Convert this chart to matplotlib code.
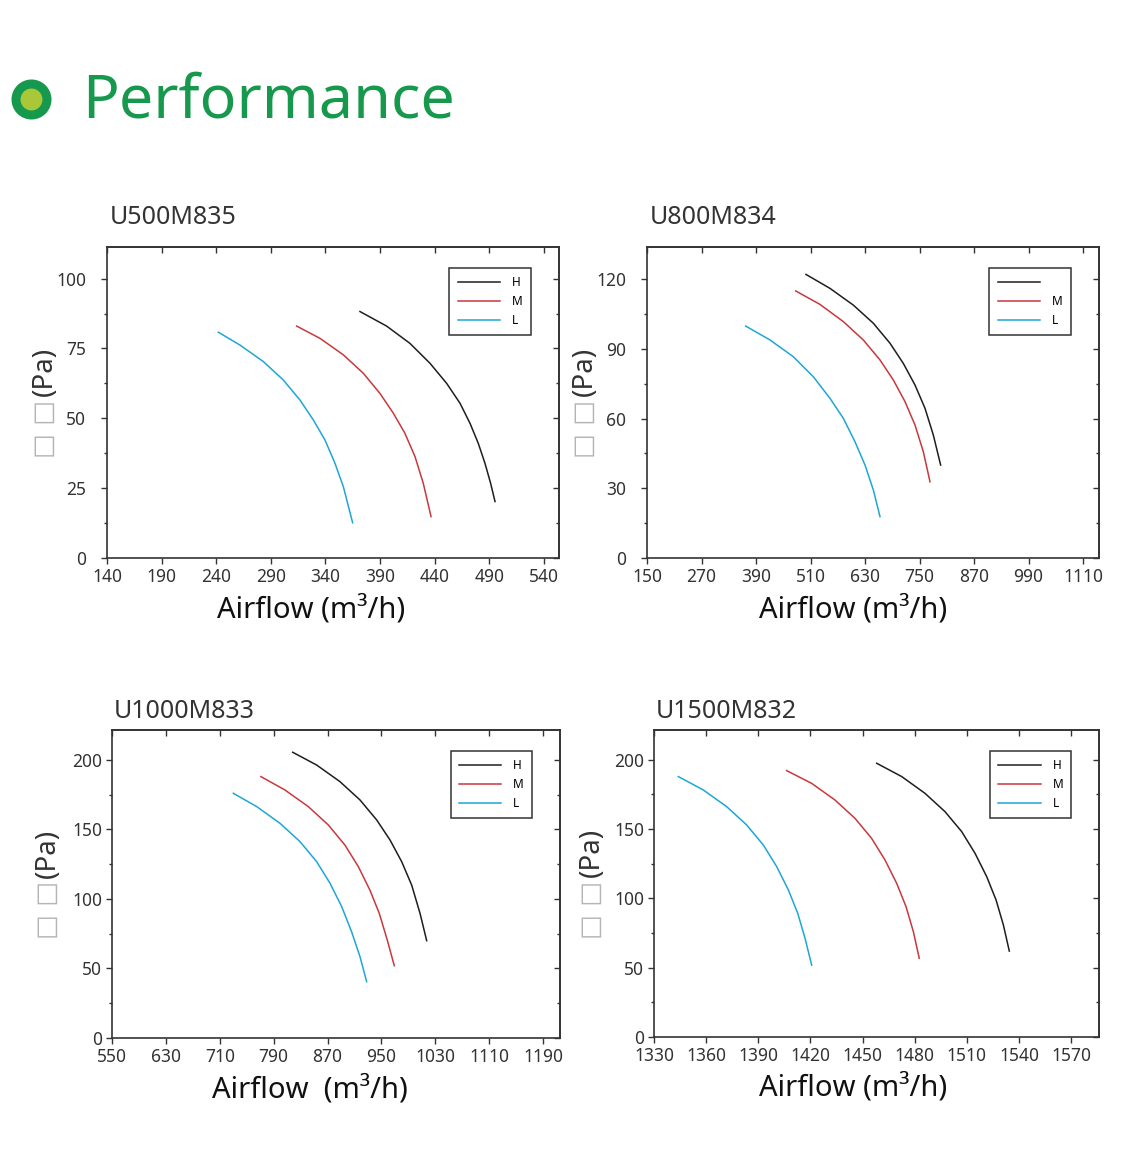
import matplotlib
matplotlib.use("Agg")
import matplotlib.pyplot as plt
from matplotlib.ticker import MultipleLocator

plt.rcParams['font.family'] = ['Noto Sans', 'DejaVu Sans']

# ---- data ----
models = ["U500M835", "U800M834", "U1000M833", "U1500M832"]
speed_labels = ["H", "M", "L"]

# U500M835
u500_xticks = [140, 190, 240, 290, 340, 390, 440, 490, 540]
u500_yticks = [0, 25, 50, 75, 100]
u500_h_x = [371.7, 396.1, 417.5, 435.8, 451.1, 463.3, 472.5, 480.1, 486.2, 491.4, 495.4]
u500_h_y = [88.2, 83.0, 76.8, 69.7, 62.5, 55.4, 48.2, 41.0, 33.9, 26.7, 20.2]
u500_m_x = [313.7, 335.1, 356.5, 374.8, 390.0, 402.3, 412.9, 422.1, 429.7, 436.8]
u500_m_y = [83.0, 78.6, 72.7, 66.1, 58.9, 51.8, 44.6, 36.3, 26.7, 14.8]
u500_l_x = [242.0, 261.8, 283.2, 301.5, 316.8, 329.0, 339.7, 348.8, 356.5, 365.0]
u500_l_y = [80.8, 76.2, 70.3, 63.7, 56.5, 49.4, 42.2, 33.9, 25.5, 12.6]

# U800M834
u800_xticks = [150, 270, 390, 510, 630, 750, 870, 990, 1110]
u800_yticks = [0, 30, 60, 90, 120]
u800_h_x = [500.0, 552.8, 604.2, 648.2, 684.9, 714.3, 740.0, 762.0, 780.3, 796.4]
u800_h_y = [122.0, 116.0, 108.8, 101.0, 92.4, 83.7, 74.4, 64.4, 52.9, 40.0]
u800_m_x = [477.3, 530.8, 582.2, 626.2, 662.9, 692.2, 717.9, 740.0, 758.3, 773.0]
u800_m_y = [114.9, 109.1, 101.7, 93.8, 85.2, 76.6, 67.3, 57.2, 45.7, 32.8]
u800_l_x = [367.2, 420.8, 472.1, 516.1, 552.8, 582.2, 607.9, 629.9, 648.2, 662.9]
u800_l_y = [99.8, 93.8, 86.6, 78.0, 68.7, 60.1, 50.0, 40.0, 29.3, 17.8]

# U1000M833
u1000_xticks = [550, 630, 710, 790, 870, 950, 1030, 1110, 1190]
u1000_yticks = [0, 50, 100, 150, 200]
u1000_h_x = [818.2, 853.8, 888.3, 918.1, 942.9, 962.7, 980.0, 994.8, 1007.2, 1017.1]
u1000_h_y = [205.5, 196.3, 184.4, 171.2, 156.8, 142.4, 126.8, 110.0, 89.7, 70.0]
u1000_m_x = [771.0, 806.6, 841.4, 871.1, 895.7, 915.6, 932.8, 946.7, 958.6, 969.0]
u1000_m_y = [188.0, 178.4, 166.4, 153.2, 138.8, 123.3, 106.4, 89.7, 70.5, 52.0]
u1000_l_x = [730.1, 764.8, 799.4, 829.1, 853.8, 873.6, 890.9, 905.6, 918.1, 928.0]
u1000_l_y = [176.0, 166.4, 154.4, 141.2, 126.8, 111.3, 94.5, 76.5, 58.5, 40.5]

# U1500M832
u1500_xticks = [1330, 1360, 1390, 1420, 1450, 1480, 1510, 1540, 1570]
u1500_yticks = [0, 50, 100, 150, 200]
u1500_h_x = [1458.1, 1472.5, 1485.9, 1497.4, 1507.0, 1514.7, 1521.4, 1526.8, 1531.0, 1534.4]
u1500_h_y = [197.5, 187.9, 175.8, 162.6, 148.2, 132.5, 115.7, 98.8, 80.8, 62.0]
u1500_m_x = [1406.3, 1420.7, 1434.1, 1445.6, 1455.2, 1462.9, 1469.6, 1475.0, 1479.2, 1482.6]
u1500_m_y = [192.2, 183.0, 171.0, 157.8, 143.3, 127.7, 110.9, 94.0, 76.0, 56.8]
u1500_l_x = [1344.0, 1358.4, 1371.8, 1383.3, 1392.9, 1400.6, 1407.3, 1412.7, 1416.9, 1420.7]
u1500_l_y = [187.9, 178.2, 166.2, 153.0, 138.5, 122.9, 106.1, 89.2, 71.2, 51.9]

# ---- layout / style ----
W, H = 1123, 1149
DARK = "#333333"
line_colors = ["#1e1e1e", "#c8383c", "#1ea6d4"]


def frac(left, top, right, bottom):
    return [left / W, 1 - bottom / H, (right - left) / W, (bottom - top) / H]


panels = [
    dict(name=models[0], rect=frac(107, 247, 559, 558), xlim=(140, 554), ylim=(0, 111.3),
         xticks=u500_xticks, yticks=u500_yticks,
         curves=[(u500_h_x, u500_h_y), (u500_m_x, u500_m_y), (u500_l_x, u500_l_y)],
         legend_labels=speed_labels, title_y=1.074, xlab_x=0.451, xlab="Airflow (m³/h)",
         ypad=11, ylab_x=-0.137),
    dict(name=models[1], rect=frac(647, 247, 1099, 558), xlim=(150, 1145), ylim=(0, 133.8),
         xticks=u800_xticks, yticks=u800_yticks,
         curves=[(u800_h_x, u800_h_y), (u800_m_x, u800_m_y), (u800_l_x, u800_l_y)],
         legend_labels=["", "M", "L"], title_y=1.074, xlab_x=0.456, xlab="Airflow (m³/h)",
         ypad=11, ylab_x=-0.137),
    dict(name=models[2], rect=frac(112, 730, 560, 1038), xlim=(550, 1215), ylim=(0, 221.5),
         xticks=u1000_xticks, yticks=u1000_yticks,
         curves=[(u1000_h_x, u1000_h_y), (u1000_m_x, u1000_m_y), (u1000_l_x, u1000_l_y)],
         legend_labels=speed_labels, title_y=1.039, xlab_x=0.442, xlab="Airflow  (m³/h)",
         ypad=3, ylab_x=-0.143),
    dict(name=models[3], rect=frac(654, 730, 1099, 1037), xlim=(1330, 1586), ylim=(0, 221.5),
         xticks=u1500_xticks, yticks=u1500_yticks,
         curves=[(u1500_h_x, u1500_h_y), (u1500_m_x, u1500_m_y), (u1500_l_x, u1500_l_y)],
         legend_labels=speed_labels, title_y=1.039, xlab_x=0.447, xlab="Airflow (m³/h)",
         ypad=3, ylab_x=-0.139),
]

fig = plt.figure(figsize=(W / 100, H / 100), dpi=100)
fig.patch.set_facecolor("white")

# header: green dot + "Performance"
hdr = fig.add_axes([0, 0, 1, 1])
hdr.set_xlim(0, 1)
hdr.set_ylim(0, 1)
hdr.axis("off")
hdr.plot([31 / W], [1 - 98.5 / H], marker="o", markersize=22.3, markeredgewidth=6.5,
         markerfacecolor="#a8c83a", markeredgecolor="#17994d")
fig.text(82 / W, 1 - 117 / H, "Performance", fontsize=44, color="#17994d", va="baseline")

for p in panels:
    ax = fig.add_axes(p["rect"])
    for (xs, ys), c, lab in zip(p["curves"], line_colors, p["legend_labels"]):
        ax.plot(xs, ys, color=c, lw=1.1, label=lab)

    ax.set_xlim(*p["xlim"])
    ax.set_ylim(*p["ylim"])
    ax.set_xticks(p["xticks"])
    ax.set_yticks(p["yticks"])
    step = p["yticks"][1] - p["yticks"][0]
    ax.yaxis.set_minor_locator(MultipleLocator(step / 2))
    ax.tick_params(axis="both", which="major", direction="out", length=4, width=1,
                   colors=DARK, labelsize=12.5, labelcolor=DARK)
    ax.tick_params(axis="y", which="major", pad=p["ypad"])
    ax.tick_params(axis="x", which="major", pad=3)
    ax.tick_params(axis="y", which="minor", direction="out", length=2.5, width=1, colors=DARK)
    for s in ax.spines.values():
        s.set_color(DARK)
        s.set_linewidth(1.2)

    # inward ticks on top and right
    top = ax.secondary_xaxis("top")
    top.set_xticks(p["xticks"])
    top.tick_params(direction="in", length=4, width=1, colors=DARK, labeltop=False)
    top.spines["top"].set_color(DARK)
    top.spines["top"].set_linewidth(1.2)
    right = ax.secondary_yaxis("right")
    right.set_yticks(p["yticks"])
    right.yaxis.set_minor_locator(MultipleLocator(step / 2))
    right.tick_params(which="major", direction="in", length=4, width=1, colors=DARK, labelright=False)
    right.tick_params(which="minor", direction="in", length=2.5, width=1, colors=DARK)
    right.spines["right"].set_color(DARK)
    right.spines["right"].set_linewidth(1.2)

    ax.text(0.005, p["title_y"], p["name"], transform=ax.transAxes, fontsize=18,
            color=DARK, ha="left", va="baseline")
    ax.text(p["xlab_x"], -0.192, p["xlab"], transform=ax.transAxes, fontsize=21,
            color="#111111", ha="center", va="baseline")
    ax.text(p["ylab_x"], 0.60, "(Pa)", transform=ax.transAxes, fontsize=20, rotation=90,
            color=DARK, ha="center", va="center")
    ax.text(p["ylab_x"], 0.415, "□ □", transform=ax.transAxes, fontsize=19, rotation=90,
            color="#b5b5b5", ha="center", va="center", family=["DejaVu Sans"])

    handles = ax.get_lines()
    leg = ax.legend(handles, p["legend_labels"], loc="upper right",
                    bbox_to_anchor=(0.938, 0.932), fontsize=8.5, frameon=True, fancybox=False,
                    framealpha=1, edgecolor=DARK, handlelength=3.6, handletextpad=1.0,
                    labelspacing=0.5, borderpad=0.7, borderaxespad=0)
    leg.get_frame().set_linewidth(1.1)

fig.savefig("out.png", dpi=100, facecolor="white")
